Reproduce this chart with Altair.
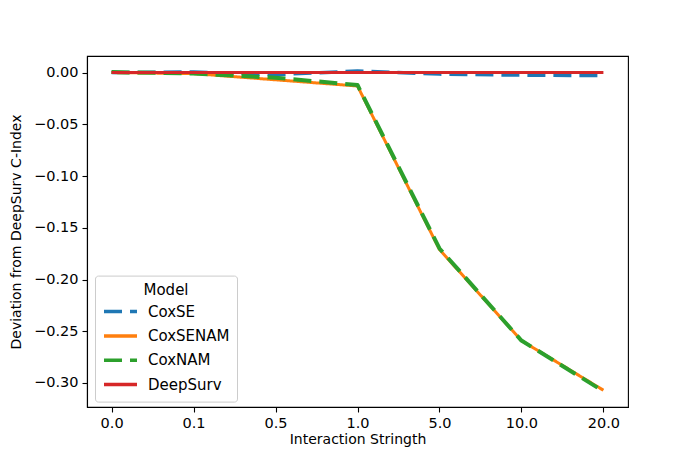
import altair as alt
import pandas as pd

strengths = ["0.0", "0.1", "0.5", "1.0", "5.0", "10.0", "20.0"]
models = ["CoxSE", "CoxSENAM", "CoxNAM", "DeepSurv"]
cox_se = [0.0, 0.0005, -0.002, 0.0015, -0.0015, -0.0025, -0.003]
cox_senam = [0.0, -0.001, -0.007, -0.013, -0.171, -0.259, -0.307]
cox_nam = [0.0005, -0.001, -0.005, -0.012, -0.170, -0.259, -0.308]
deepsurv = [0.0, 0.0, 0.0, 0.0, 0.0, 0.0, 0.0]
y_ticks = [-0.30, -0.25, -0.20, -0.15, -0.10, -0.05, 0.0]

colors = ["#1f77b4", "#ff7f0e", "#2ca02c", "#d62728"]
dashes = [[18, 8], [1, 0], [18, 8], [1, 0]]
widths = [3.5, 3, 4, 3]

rows = []
for m, vals in zip(models, [cox_se, cox_senam, cox_nam, deepsurv]):
    for s, v in zip(strengths, vals):
        rows.append({"Model": m, "Strength": s, "Deviation": v})
df = pd.DataFrame(rows)

legend = alt.Legend(
    title="Model", orient="none", legendX=8, legendY=219.6,
    fillColor="white", strokeColor="#cccccc", cornerRadius=3, padding=7,
    symbolType="stroke", symbolSize=1089, symbolStrokeWidth=3.5,
    labelFontSize=15, titleFontSize=15, titleFontWeight="normal",
    titleAnchor="middle", labelOffset=9, clipHeight=20, rowPadding=4.3,
    titlePadding=4, labelColor="black", titleColor="black",
)

x_enc = alt.X("Strength:O", sort=strengths,
              scale=alt.Scale(type="point", padding=0.3),
              axis=alt.Axis(title="Interaction Stringth", labelAngle=0, grid=False))
y_enc = alt.Y("Deviation:Q",
              scale=alt.Scale(domain=[-0.3232, 0.016], nice=False, zero=False),
              axis=alt.Axis(values=y_ticks, format=".2f", grid=False,
                            title="Deviation from DeepSurv C-Index"))
c_enc = alt.Color("Model:N", sort=models,
                  scale=alt.Scale(domain=models, range=colors), legend=legend)
d_enc = alt.StrokeDash("Model:N", sort=models,
                       scale=alt.Scale(domain=models, range=dashes), legend=legend)

layers = []
for m, w in zip(models, widths):
    layers.append(
        alt.Chart(df)
        .transform_filter(alt.datum.Model == m)
        .mark_line(strokeWidth=w, strokeCap="butt", strokeJoin="round")
        .encode(x=x_enc, y=y_enc, color=c_enc, strokeDash=d_enc)
    )

chart = (
    alt.layer(*layers)
    .properties(width=541, height=351,
                autosize=alt.AutoSizeParams(type="none"),
                padding={"left": 79, "top": 48, "right": 10, "bottom": 58})
    .configure(font="DejaVu Sans")
    .configure_view(stroke="black", strokeWidth=1.1)
    .configure_axis(domainColor="black", tickColor="black", labelColor="black",
                    titleColor="black", tickSize=5, domainWidth=1.1, tickWidth=1.1,
                    labelFontSize=14.5, titleFontSize=14, titleFontWeight="normal",
                    labelPadding=4)
    .configure_axisY(titlePadding=10)
    .configure_axisX(titlePadding=3)
)

chart.save("out.html", embed_options={"renderer": "svg", "actions": False})
